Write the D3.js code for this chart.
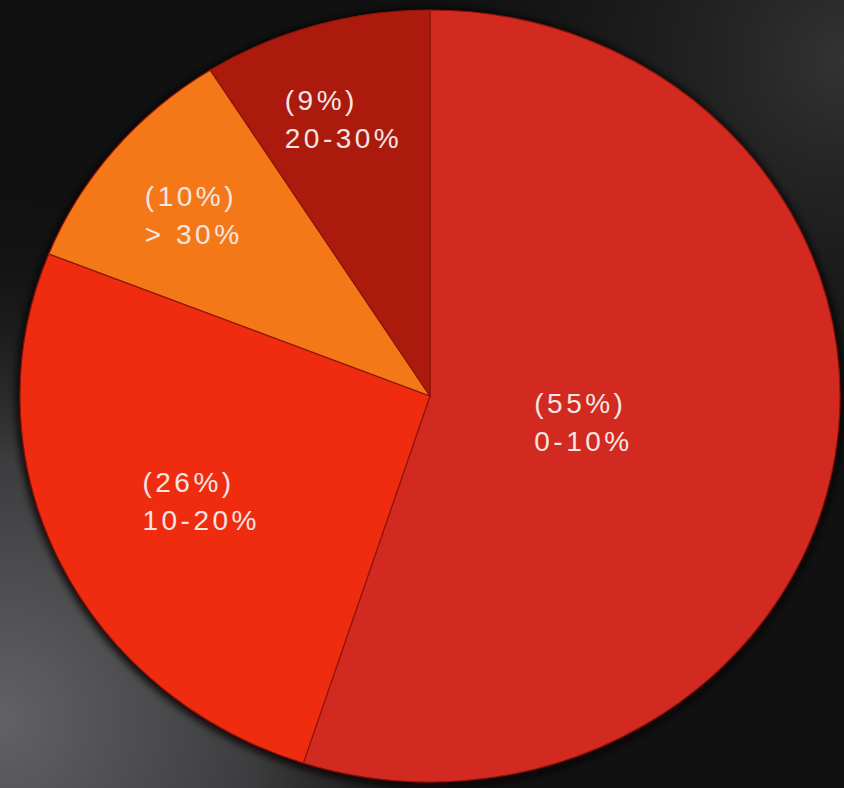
<!DOCTYPE html>
<html>
<head>
<meta charset="utf-8">
<script src="https://cdn.jsdelivr.net/npm/d3@7"></script>
<style>
  html, body { margin: 0; padding: 0; background: #111; }
  svg { display: block; }
  .lbl { font-family: "Liberation Sans", Arial, sans-serif; font-size: 28px; letter-spacing: 3.5px; fill: #f4e6e2; }
</style>
</head>
<body>
<div id="chart"></div>
<script>
// slice data, clockwise from 12 o'clock
var shares = [55, 26, 10, 9];
var ranges = ["0-10%", "10-20%", "> 30%", "20-30%"];
var colors = ["#d22a20", "#ef2c10", "#f47818", "#ab1a0c"];

var width = 844, height = 788;
var cx = 430, cy = 396, rx = 410, ry = 386;

var svg = d3.select("#chart").append("svg")
    .attr("width", width)
    .attr("height", height);

var defs = svg.append("defs");

// dark backdrop, lighter at bottom left
var g1 = defs.append("radialGradient").attr("id", "glowLeft")
    .attr("gradientUnits", "userSpaceOnUse")
    .attr("cx", 0).attr("cy", 720).attr("r", 520);
g1.append("stop").attr("offset", 0).attr("stop-color", "#626264");
g1.append("stop").attr("offset", 0.5).attr("stop-color", "#3c3c3e");
g1.append("stop").attr("offset", 1).attr("stop-color", "#141414").attr("stop-opacity", 0);

var g2 = defs.append("radialGradient").attr("id", "glowRight")
    .attr("gradientUnits", "userSpaceOnUse")
    .attr("cx", 844).attr("cy", 60).attr("r", 420);
g2.append("stop").attr("offset", 0).attr("stop-color", "#333333");
g2.append("stop").attr("offset", 1).attr("stop-color", "#1a1a1a").attr("stop-opacity", 0);

var shadow = defs.append("filter").attr("id", "shadow")
    .attr("x", "-10%").attr("y", "-10%").attr("width", "120%").attr("height", "120%");
shadow.append("feGaussianBlur").attr("stdDeviation", 4);

svg.append("rect").attr("width", width).attr("height", height).attr("fill", "#121111");
svg.append("rect").attr("width", width).attr("height", height).attr("fill", "url(#glowRight)");
svg.append("rect").attr("width", width).attr("height", height).attr("fill", "url(#glowLeft)");

// shadow under the pie
svg.append("ellipse")
    .attr("cx", cx).attr("cy", cy + 2)
    .attr("rx", rx + 3).attr("ry", ry + 3)
    .attr("fill", "#0a0202")
    .attr("filter", "url(#shadow)");

var data = shares.map(function(d, i) {
  return {share: d, range: ranges[i], color: colors[i]};
});

var pie = d3.pie()
    .sort(null)
    .value(function(d) { return d.share; });

var arcs = pie(data);

var arc = d3.arc()
    .innerRadius(0)
    .outerRadius(rx);

// pie is slightly wider than tall
var pieG = svg.append("g")
    .attr("transform", "translate(" + cx + "," + cy + ") scale(1," + (ry / rx) + ")");

pieG.selectAll("path.slice")
    .data(arcs)
  .enter().append("path")
    .attr("class", "slice")
    .attr("d", arc)
    .attr("fill", function(d) { return d.data.color; })
    .attr("stroke", "#8e150b")
    .attr("stroke-width", 1.2)
    .attr("vector-effect", "non-scaling-stroke");

// labels: smaller slices get pushed further out, two lines left aligned
var labelG = svg.append("g").attr("transform", "translate(" + cx + "," + cy + ")");

var labels = labelG.selectAll("text.lbl")
    .data(arcs)
  .enter().append("text")
    .attr("class", "lbl")
    .attr("transform", function(d) {
      var p = d.data.share / 100;
      var r = rx * (0.83 - 0.82 * p);
      var a = (d.startAngle + d.endAngle) / 2;
      var x = Math.sin(a) * r;
      var y = -Math.cos(a) * r * (ry / rx);
      return "translate(" + x + "," + y + ")";
    });

labels.append("tspan")
    .attr("dy", "-0.2em")
    .text(function(d) { return "(" + d.data.share + "%)"; });

labels.append("tspan")
    .attr("dy", "1.35em")
    .text(function(d) { return d.data.range; });

labels.each(function() {
  var spans = d3.select(this).selectAll("tspan");
  var w = d3.max(spans.nodes(), function(n) { return n.getComputedTextLength(); });
  spans.attr("x", -w / 2);
});
</script>
</body>
</html>
